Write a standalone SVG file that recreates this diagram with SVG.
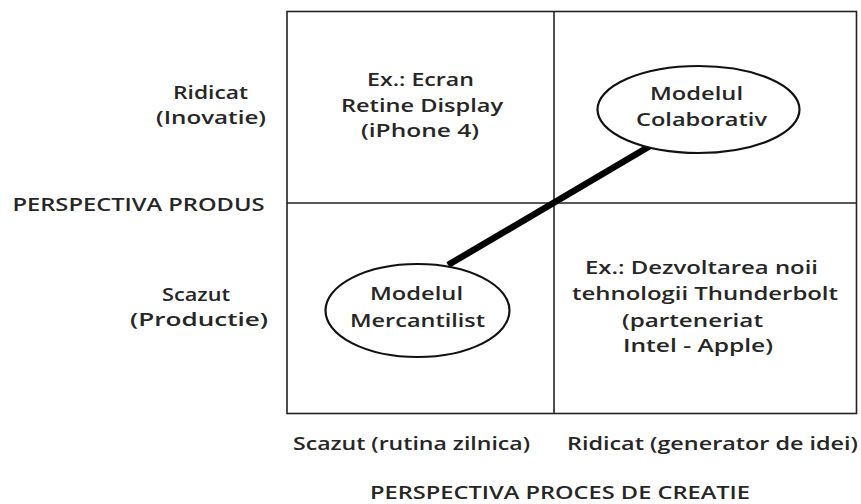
<svg xmlns="http://www.w3.org/2000/svg" width="861" height="504" viewBox="0 0 861 504">
<style>
  text { font-family: "Open Sans", "DejaVu Sans", sans-serif; font-size: 18.5px; font-weight: 600; fill: #262626; }
  .grid { fill: none; stroke: #222; stroke-width: 1.6; }
  .ell { fill: #fff; stroke: #111; stroke-width: 2.2; }
  .conn { stroke: #000; stroke-width: 6.5; stroke-linecap: butt; }
</style>
<rect width="861" height="504" fill="#fff"/>
<g id="matrix">
  <rect class="grid" x="287" y="11.5" width="569.5" height="402"/>
  <line class="grid" x1="554" y1="11.5" x2="554" y2="413.5"/>
  <line class="grid" x1="287" y1="203" x2="856.5" y2="203"/>
</g>
<g id="connectors">
  <line class="conn" x1="448" y1="265" x2="650" y2="146"/>
</g>
<g id="axis-y">
  <text x="12.5" y="211" textLength="252" lengthAdjust="spacingAndGlyphs">PERSPECTIVA PRODUS</text>
  <text x="173" y="99" textLength="75" lengthAdjust="spacingAndGlyphs">Ridicat</text>
  <text x="156" y="124" textLength="110" lengthAdjust="spacingAndGlyphs">(Inovatie)</text>
  <text x="162" y="301" textLength="68" lengthAdjust="spacingAndGlyphs">Scazut</text>
  <text x="130" y="326" textLength="138" lengthAdjust="spacingAndGlyphs">(Productie)</text>
</g>
<g id="axis-x">
  <text x="293" y="450" textLength="237" lengthAdjust="spacingAndGlyphs">Scazut (rutina zilnica)</text>
  <text x="567" y="450" textLength="291" lengthAdjust="spacingAndGlyphs">Ridicat (generator de idei)</text>
  <text x="370" y="499" textLength="380" lengthAdjust="spacingAndGlyphs">PERSPECTIVA PROCES DE CREATIE</text>
</g>
<g id="example-retina">
  <text x="367" y="86" textLength="107" lengthAdjust="spacingAndGlyphs">Ex.: Ecran</text>
  <text x="341" y="112" textLength="162" lengthAdjust="spacingAndGlyphs">Retine Display</text>
  <text x="361" y="137" textLength="118" lengthAdjust="spacingAndGlyphs">(iPhone 4)</text>
</g>
<g id="modelul-colaborativ">
  <ellipse class="ell" cx="698.5" cy="109.5" rx="101" ry="43.5"/>
  <text x="650" y="100" textLength="93" lengthAdjust="spacingAndGlyphs">Modelul</text>
  <text x="636" y="126" textLength="131" lengthAdjust="spacingAndGlyphs">Colaborativ</text>
</g>
<g id="modelul-mercantilist">
  <ellipse class="ell" cx="417.5" cy="310.5" rx="92" ry="46.5"/>
  <text x="370" y="300" textLength="93" lengthAdjust="spacingAndGlyphs">Modelul</text>
  <text x="350" y="327" textLength="135" lengthAdjust="spacingAndGlyphs">Mercantilist</text>
</g>
<g id="example-thunderbolt">
  <text x="585" y="274" textLength="233" lengthAdjust="spacingAndGlyphs">Ex.: Dezvoltarea noii</text>
  <text x="572" y="300" textLength="266" lengthAdjust="spacingAndGlyphs">tehnologii Thunderbolt</text>
  <text x="622" y="327" textLength="141" lengthAdjust="spacingAndGlyphs">(parteneriat</text>
  <text x="623" y="352" textLength="150" lengthAdjust="spacingAndGlyphs">Intel - Apple)</text>
</g>
</svg>
